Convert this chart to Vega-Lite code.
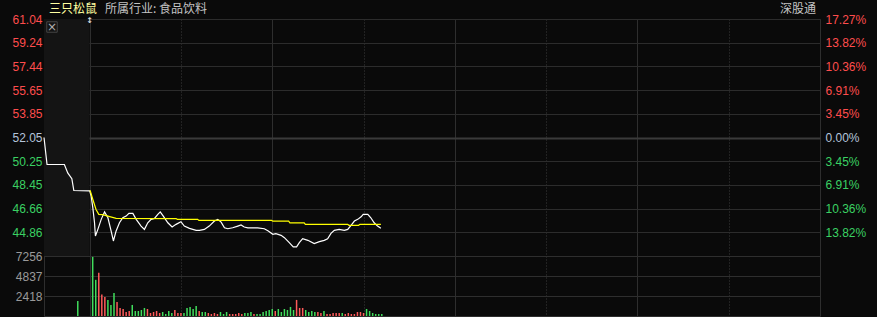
{
  "$schema": "https://vega.github.io/schema/vega-lite/v6.json",
  "background": "#0a0a0a",
  "padding": {"left": 11, "top": 2, "right": 12, "bottom": 2},
  "spacing": 0,
  "bounds": "flush",
  "config": {
    "view": {"stroke": "#2e2e2e", "strokeWidth": 1},
    "axis": {"labelFont": "Liberation Sans", "labelFontSize": 12, "title": null, "ticks": false, "domain": false, "gridColor": "#2c2c2c", "gridOpacity": 1},
    "axisX": {"labels": false, "ticks": false, "domain": false},
    "concat": {"spacing": 0}
  },
  "datasets": {
    "one": [{}],
    "price": [
      {"m": -15, "p": 52.05}, {"m": -14.0, "p": 50.0}, {"m": -8.3, "p": 50.0}, {"m": -7.2, "p": 49.36},
      {"m": -5.85, "p": 48.93}, {"m": -5.2, "p": 48.03}, {"m": 0, "p": 48.0},
      {"m": 0.5, "p": 47.6}, {"m": 1.05, "p": 46.71}, {"m": 1.6, "p": 45.58}, {"m": 1.9, "p": 44.58},
      {"m": 2.7, "p": 45.08}, {"m": 3.8, "p": 45.84}, {"m": 4.9, "p": 46.41}, {"m": 6.0, "p": 45.96},
      {"m": 7.05, "p": 44.96}, {"m": 7.8, "p": 44.2}, {"m": 8.7, "p": 44.96}, {"m": 9.8, "p": 45.58},
      {"m": 10.9, "p": 45.96}, {"m": 12.0, "p": 46.09}, {"m": 12.9, "p": 46.29}, {"m": 14.2, "p": 46.29},
      {"m": 15.3, "p": 45.84}, {"m": 16.9, "p": 45.33}, {"m": 18.0, "p": 45.08}, {"m": 19.1, "p": 45.58},
      {"m": 20.2, "p": 45.84}, {"m": 21.3, "p": 45.91}, {"m": 22.4, "p": 46.22}, {"m": 23.2, "p": 46.41},
      {"m": 24.2, "p": 46.09}, {"m": 25.7, "p": 45.58}, {"m": 27.1, "p": 45.26}, {"m": 28.4, "p": 45.46},
      {"m": 30.0, "p": 45.66}, {"m": 31.1, "p": 45.33}, {"m": 32.8, "p": 45.16}, {"m": 35.0, "p": 45.01},
      {"m": 36.1, "p": 45.01}, {"m": 37.7, "p": 45.08}, {"m": 39.3, "p": 45.33}, {"m": 41.0, "p": 45.71},
      {"m": 42.1, "p": 45.84}, {"m": 43.2, "p": 45.63}, {"m": 44.3, "p": 45.2}, {"m": 45.4, "p": 45.13},
      {"m": 47.0, "p": 45.2}, {"m": 48.7, "p": 45.33}, {"m": 49.75, "p": 45.41}, {"m": 50.8, "p": 45.26},
      {"m": 52.0, "p": 45.2}, {"m": 55.2, "p": 45.2}, {"m": 57.4, "p": 45.13}, {"m": 58.7, "p": 44.96},
      {"m": 60.2, "p": 44.71}, {"m": 61.2, "p": 44.75}, {"m": 62.9, "p": 44.63}, {"m": 64.0, "p": 44.45},
      {"m": 65.6, "p": 44.07}, {"m": 66.9, "p": 43.75}, {"m": 68.0, "p": 43.75}, {"m": 68.9, "p": 44.07},
      {"m": 70.0, "p": 44.37}, {"m": 71.7, "p": 44.25}, {"m": 73.8, "p": 44.0}, {"m": 75.5, "p": 44.15},
      {"m": 77.1, "p": 44.25}, {"m": 78.2, "p": 44.37}, {"m": 79.3, "p": 44.78}, {"m": 80.4, "p": 45.01},
      {"m": 82.0, "p": 45.08}, {"m": 83.7, "p": 45.01}, {"m": 84.8, "p": 45.08}, {"m": 85.9, "p": 45.39},
      {"m": 87.0, "p": 45.71}, {"m": 88.1, "p": 45.84}, {"m": 89.2, "p": 46.03}, {"m": 89.9, "p": 46.22},
      {"m": 91.4, "p": 46.22}, {"m": 92.4, "p": 45.96}, {"m": 93.5, "p": 45.58}, {"m": 94.6, "p": 45.33},
      {"m": 95.7, "p": 45.16}
    ],
    "avg": [
      {"m": 0, "a": 48.0}, {"m": 0.2, "a": 48.0}, {"m": 1.05, "a": 47.35}, {"m": 2.1, "a": 46.59},
      {"m": 3.0, "a": 46.22}, {"m": 4.3, "a": 46.2}, {"m": 6.0, "a": 46.09}, {"m": 8.7, "a": 45.92},
      {"m": 28.4, "a": 45.9}, {"m": 28.8, "a": 45.84}, {"m": 35.5, "a": 45.84}, {"m": 35.9, "a": 45.76},
      {"m": 59.8, "a": 45.76}, {"m": 60.2, "a": 45.7}, {"m": 65.4, "a": 45.7}, {"m": 65.8, "a": 45.58},
      {"m": 70.5, "a": 45.58}, {"m": 70.9, "a": 45.46}, {"m": 84.8, "a": 45.46}, {"m": 85.2, "a": 45.39},
      {"m": 88.4, "a": 45.39}, {"m": 88.8, "a": 45.46}, {"m": 95.7, "a": 45.46}
    ],
    "vol": [
      {"m": -3.9, "v": 1820, "d": "down"},
      {"m": 1, "v": 7150, "d": "down"}, {"m": 2, "v": 4374, "d": "down"}, {"m": 3, "v": 5225, "d": "up"},
      {"m": 4, "v": 2590, "d": "up"}, {"m": 5, "v": 2308, "d": "up"}, {"m": 6, "v": 1944, "d": "down"},
      {"m": 7, "v": 1337, "d": "down"}, {"m": 8, "v": 2795, "d": "down"}, {"m": 9, "v": 1701, "d": "up"},
      {"m": 10, "v": 972, "d": "up"}, {"m": 11, "v": 850, "d": "up"}, {"m": 12, "v": 486, "d": "up"},
      {"m": 13, "v": 608, "d": "up"}, {"m": 14, "v": 1337, "d": "down"}, {"m": 15, "v": 608, "d": "down"},
      {"m": 16, "v": 608, "d": "down"}, {"m": 17, "v": 729, "d": "down"}, {"m": 18, "v": 972, "d": "down"},
      {"m": 19, "v": 850, "d": "up"}, {"m": 20, "v": 365, "d": "up"}, {"m": 21, "v": 486, "d": "up"},
      {"m": 22, "v": 608, "d": "up"}, {"m": 23, "v": 365, "d": "up"}, {"m": 24, "v": 486, "d": "down"},
      {"m": 25, "v": 243, "d": "down"}, {"m": 26, "v": 608, "d": "down"}, {"m": 27, "v": 365, "d": "down"},
      {"m": 28, "v": 729, "d": "up"}, {"m": 29, "v": 365, "d": "up"}, {"m": 30, "v": 365, "d": "up"},
      {"m": 31, "v": 365, "d": "down"}, {"m": 32, "v": 972, "d": "down"}, {"m": 33, "v": 1094, "d": "down"},
      {"m": 34, "v": 850, "d": "down"}, {"m": 35, "v": 1215, "d": "down"}, {"m": 36, "v": 608, "d": "up"},
      {"m": 37, "v": 486, "d": "down"}, {"m": 38, "v": 486, "d": "down"}, {"m": 39, "v": 365, "d": "up"},
      {"m": 40, "v": 243, "d": "up"}, {"m": 41, "v": 365, "d": "up"}, {"m": 42, "v": 243, "d": "up"},
      {"m": 43, "v": 486, "d": "down"}, {"m": 44, "v": 243, "d": "down"}, {"m": 45, "v": 486, "d": "down"},
      {"m": 46, "v": 243, "d": "up"}, {"m": 47, "v": 243, "d": "up"}, {"m": 48, "v": 243, "d": "up"},
      {"m": 49, "v": 365, "d": "up"}, {"m": 50, "v": 243, "d": "up"}, {"m": 51, "v": 365, "d": "down"},
      {"m": 52, "v": 365, "d": "down"}, {"m": 53, "v": 486, "d": "down"}, {"m": 54, "v": 243, "d": "up"},
      {"m": 55, "v": 243, "d": "down"}, {"m": 56, "v": 243, "d": "down"}, {"m": 57, "v": 486, "d": "down"},
      {"m": 58, "v": 608, "d": "down"}, {"m": 59, "v": 729, "d": "down"}, {"m": 60, "v": 850, "d": "down"},
      {"m": 61, "v": 608, "d": "up"}, {"m": 62, "v": 850, "d": "down"}, {"m": 63, "v": 486, "d": "down"},
      {"m": 64, "v": 850, "d": "down"}, {"m": 65, "v": 729, "d": "down"}, {"m": 66, "v": 1094, "d": "down"},
      {"m": 67, "v": 729, "d": "down"}, {"m": 68, "v": 1944, "d": "up"}, {"m": 69, "v": 972, "d": "up"},
      {"m": 70, "v": 972, "d": "up"}, {"m": 71, "v": 729, "d": "down"}, {"m": 72, "v": 486, "d": "down"},
      {"m": 73, "v": 608, "d": "down"}, {"m": 74, "v": 486, "d": "down"}, {"m": 75, "v": 486, "d": "up"},
      {"m": 76, "v": 365, "d": "up"}, {"m": 77, "v": 608, "d": "down"}, {"m": 78, "v": 243, "d": "up"},
      {"m": 79, "v": 243, "d": "up"}, {"m": 80, "v": 365, "d": "up"}, {"m": 81, "v": 365, "d": "up"},
      {"m": 82, "v": 365, "d": "up"}, {"m": 83, "v": 365, "d": "down"}, {"m": 84, "v": 243, "d": "up"},
      {"m": 85, "v": 365, "d": "up"}, {"m": 86, "v": 243, "d": "up"}, {"m": 87, "v": 243, "d": "up"},
      {"m": 88, "v": 486, "d": "up"}, {"m": 89, "v": 486, "d": "up"}, {"m": 90, "v": 365, "d": "up"},
      {"m": 91, "v": 850, "d": "down"}, {"m": 92, "v": 608, "d": "down"}, {"m": 93, "v": 365, "d": "down"},
      {"m": 94, "v": 243, "d": "down"}, {"m": 95, "v": 243, "d": "down"}, {"m": 96, "v": 243, "d": "down"}
    ]
  },
  "vconcat": [
    {
      "width": 776,
      "height": 237,
      "resolve": {"axis": {"y": "independent"}},
      "layer": [
        {
          "data": {"name": "one"},
          "mark": {"type": "rect", "fill": "#141414"},
          "encoding": {
            "x": {"datum": -15, "type": "quantitative", "scale": {"domain": [-15, 240], "nice": false, "zero": false}},
            "x2": {"datum": 0},
            "y": {"datum": 61.04, "type": "quantitative", "scale": {"domain": [43.06, 61.04], "nice": false, "zero": false}, "axis": null},
            "y2": {"datum": 43.06}
          }
        },
        {
          "data": {"name": "price"},
          "mark": {"type": "line", "color": "#ffffff", "strokeWidth": 1.2},
          "encoding": {
            "x": {"field": "m", "type": "quantitative", "scale": {"domain": [-15, 240], "nice": false, "zero": false},
              "axis": {"values": [0, 30, 60, 90, 120, 150, 180, 210], "labels": false, "grid": true,
                "gridDash": {"condition": {"test": "datum.value % 60 === 30", "value": [1, 2]}, "value": []},
                "gridColor": {"condition": {"test": "datum.value % 60 === 30", "value": "#3a3a3a"}, "value": "#2e2e2e"}}},
            "y": {"field": "p", "type": "quantitative", "scale": {"domain": [43.06, 61.04], "nice": false, "zero": false},
              "axis": {"orient": "left", "values": [44.858, 46.656, 48.454, 50.252, 52.05, 53.848, 55.646, 57.444, 59.242, 61.04],
                "format": ".2f", "labelPadding": 2, "grid": true,
                "gridWidth": {"condition": {"test": "abs(datum.value - 52.05) < 0.01", "value": 2}, "value": 1},
                "gridColor": {"condition": {"test": "abs(datum.value - 52.05) < 0.01", "value": "#3a3a3a"}, "value": "#2c2c2c"},
                "labelColor": {"condition": [{"test": "datum.value > 52.06", "value": "#ff4d4d"}, {"test": "datum.value < 52.04", "value": "#3ad163"}], "value": "#b4c4da"}}}
          }
        },
        {
          "data": {"name": "avg"},
          "mark": {"type": "line", "color": "#ffff00", "strokeWidth": 1.2},
          "encoding": {
            "x": {"field": "m", "type": "quantitative", "scale": {"domain": [-15, 240], "nice": false, "zero": false}},
            "y": {"field": "a", "type": "quantitative", "scale": {"domain": [43.06, 61.04], "nice": false, "zero": false},
              "axis": {"orient": "right", "values": [44.858, 46.656, 48.454, 50.252, 52.05, 53.848, 55.646, 57.444, 59.242, 61.04],
                "labelExpr": "format(abs((datum.value - 52.05) / 52.05 * 100), '.2f') + '%'", "labelPadding": 5, "grid": false,
                "labelColor": {"condition": [{"test": "datum.value > 52.06", "value": "#ff4d4d"}, {"test": "datum.value < 52.04", "value": "#3ad163"}], "value": "#b4c4da"}}}
          }
        },
        {
          "data": {"name": "one"},
          "mark": {"type": "text", "align": "left", "baseline": "middle", "dx": 5, "dy": -10, "font": "Noto Sans CJK SC", "fontSize": 12, "color": "#ffffa0"},
          "encoding": {
            "x": {"datum": -15, "type": "quantitative", "scale": {"domain": [-15, 240], "nice": false, "zero": false}},
            "y": {"datum": 61.04, "type": "quantitative", "scale": {"domain": [43.06, 61.04], "nice": false, "zero": false}, "axis": null},
            "text": {"value": "三只松鼠"}
          }
        },
        {
          "data": {"name": "one"},
          "mark": {"type": "text", "align": "left", "baseline": "middle", "dx": 61, "dy": -10, "font": "Noto Sans CJK SC", "fontSize": 12, "color": "#c4c4c4"},
          "encoding": {
            "x": {"datum": -15, "type": "quantitative", "scale": {"domain": [-15, 240], "nice": false, "zero": false}},
            "y": {"datum": 61.04, "type": "quantitative", "scale": {"domain": [43.06, 61.04], "nice": false, "zero": false}, "axis": null},
            "text": {"value": "所属行业: 食品饮料"}
          }
        },
        {
          "data": {"name": "one"},
          "mark": {"type": "text", "align": "right", "baseline": "middle", "dx": -4, "dy": -10, "font": "Noto Sans CJK SC", "fontSize": 12, "color": "#c4c4c4"},
          "encoding": {
            "x": {"datum": 240, "type": "quantitative", "scale": {"domain": [-15, 240], "nice": false, "zero": false}},
            "y": {"datum": 61.04, "type": "quantitative", "scale": {"domain": [43.06, 61.04], "nice": false, "zero": false}, "axis": null},
            "text": {"value": "深股通"}
          }
        },
        {
          "data": {"name": "one"},
          "mark": {"type": "point", "shape": "square", "size": 110, "filled": false, "stroke": "#5a5a5a", "strokeWidth": 1, "xOffset": 8, "yOffset": 8},
          "encoding": {
            "x": {"datum": -15, "type": "quantitative", "scale": {"domain": [-15, 240], "nice": false, "zero": false}},
            "y": {"datum": 61.04, "type": "quantitative", "scale": {"domain": [43.06, 61.04], "nice": false, "zero": false}, "axis": null}
          }
        },
        {
          "data": {"name": "one"},
          "mark": {"type": "text", "align": "center", "baseline": "middle", "dx": 8, "dy": 8, "font": "DejaVu Sans", "fontSize": 12, "color": "#b0b0b0"},
          "encoding": {
            "x": {"datum": -15, "type": "quantitative", "scale": {"domain": [-15, 240], "nice": false, "zero": false}},
            "y": {"datum": 61.04, "type": "quantitative", "scale": {"domain": [43.06, 61.04], "nice": false, "zero": false}, "axis": null},
            "text": {"value": "×"}
          }
        },
        {
          "data": {"name": "one"},
          "mark": {"type": "text", "align": "center", "baseline": "middle", "dy": 2, "font": "DejaVu Sans", "fontSize": 8, "fontWeight": "bold", "color": "#dddddd"},
          "encoding": {
            "x": {"datum": 0, "type": "quantitative", "scale": {"domain": [-15, 240], "nice": false, "zero": false}},
            "y": {"datum": 61.04, "type": "quantitative", "scale": {"domain": [43.06, 61.04], "nice": false, "zero": false}, "axis": null},
            "text": {"value": "↕"}
          }
        }
      ]
    },
    {
      "width": 776,
      "height": 60,
      "data": {"name": "vol"},
      "mark": {"type": "rule", "strokeWidth": 1.5},
      "encoding": {
        "x": {"field": "m", "type": "quantitative", "scale": {"domain": [-15, 240], "nice": false, "zero": false},
          "axis": {"values": [0, 30, 60, 90, 120, 150, 180, 210], "labels": false, "grid": true,
            "gridDash": {"condition": {"test": "datum.value % 60 === 30", "value": [1, 2]}, "value": []},
            "gridColor": {"condition": {"test": "datum.value % 60 === 30", "value": "#3a3a3a"}, "value": "#2e2e2e"}}},
        "y": {"field": "v", "type": "quantitative", "scale": {"domain": [0, 7256], "nice": false},
          "axis": {"values": [2418, 4837, 7256], "format": "d", "labelColor": "#9a9a9a", "labelPadding": 2, "grid": true, "gridColor": "#2e2e2e"}},
        "y2": {"datum": 0},
        "color": {"field": "d", "type": "nominal", "scale": {"domain": ["up", "down"], "range": ["#ff5a5a", "#40dd5c"]}, "legend": null}
      }
    }
  ]
}
